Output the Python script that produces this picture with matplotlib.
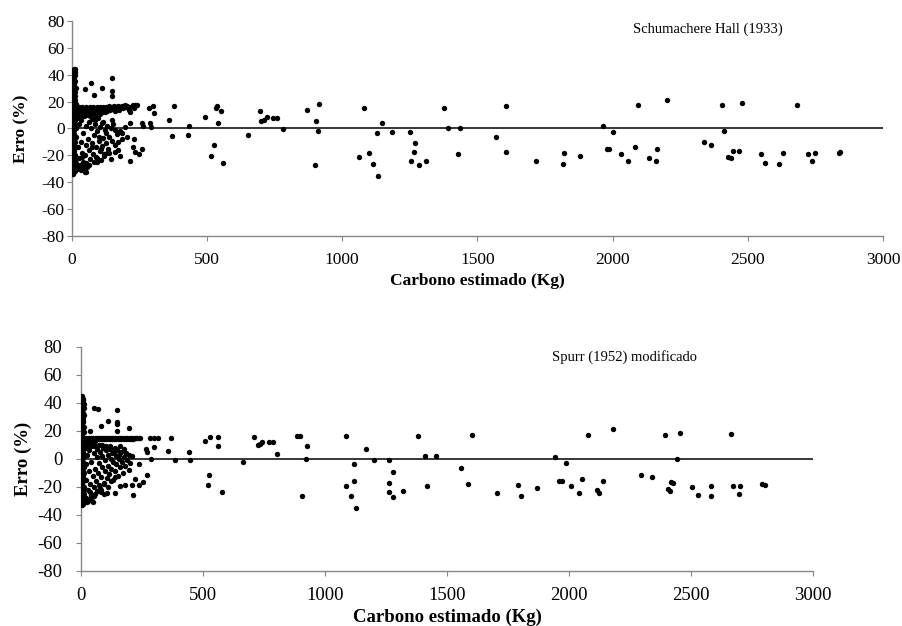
import numpy as np
import matplotlib
matplotlib.use('Agg')
import matplotlib.pyplot as plt

plt.rcParams['font.family'] = ['Liberation Serif', 'DejaVu Serif']
plt.rcParams['axes.unicode_minus'] = False

# ------- data (carbon estimate in kg, error in %) ------- #

# Schumacher e Hall (1933)
top_strip = [(8, 44), (6, 43), (4, 42), (9, 41), (3, 40), (5, 39), (7, 38), (2, 37), (6, 36), (4, 35),
             (8, 34), (3, 33), (5, 32), (7, 31), (2, 30), (6, 29), (4, 28), (8, 27), (3, 26), (5, 25),
             (7, 24), (2, 23), (6, 22), (4, 21), (8, 20), (3, 19), (5, 18), (7, 17), (2, 16), (6, 15),
             (4, 14), (8, 13), (3, 12), (5, 11), (7, 10), (2, 9), (6, 8), (4, 7), (8, 6), (3, 5),
             (5, 4), (7, 3), (2, 2), (6, 1), (4, 0), (8, -1), (3, -2), (5, -3), (7, -4), (2, -5),
             (6, -6), (4, -7), (8, -8), (3, -9), (5, -10), (7, -11), (2, -12), (6, -13), (4, -14), (8, -15),
             (3, -16), (5, -17), (7, -18), (2, -19), (6, -20), (4, -21), (8, -22), (3, -23), (5, -24), (7, -25),
             (2, -26), (6, -27), (4, -28), (8, -29), (3, -30), (5, -31), (7, -32), (4, -33), (6, -33.5),
             (12, 42), (14, 44), (11, 38), (10, 33), (12, 27), (13, 21), (11, 15), (10, 9), (12, 3),
             (11, -4), (13, -10), (10, -17), (12, -24), (11, -29), (13, 40), (12, -32),
             (14, 35), (15, 30), (14, 24), (15, 18), (14, 6), (15, 0), (14, -7), (15, -14), (14, -20),
             (15, -26), (14, -31)]

top_band = [(15, 13), (18, 15), (21, 11), (24, 14), (27, 16), (30, 12), (33, 15), (36, 13), (39, 16),
            (42, 11), (45, 14), (48, 15), (51, 13), (54, 16), (57, 12), (60, 14), (63, 15), (66, 13),
            (69, 16), (72, 14), (75, 12), (78, 15), (81, 16), (84, 13), (87, 15), (90, 14), (93, 16),
            (96, 12), (99, 15), (102, 13), (105, 16), (108, 14), (111, 15), (114, 12), (117, 16),
            (120, 14), (124, 15), (128, 16), (132, 13), (136, 15), (140, 17), (144, 14), (148, 16),
            (152, 15), (156, 17), (160, 13), (164, 16), (168, 15), (172, 17), (176, 14), (180, 16),
            (185, 17), (190, 15), (195, 17), (200, 16), (206, 17), (212, 14), (218, 16), (215, 12),
            (232, 15), (25, 10), (40, 9), (55, 10), (70, 11), (88, 10), (105, 11), (125, 12)]

top_cloud = [(18, -6), (21, 8), (24, -14), (26, -22), (29, 3), (31, -27), (34, -10), (36, 6), (39, -18),
             (41, -25), (44, -3), (47, 9), (49, -20), (52, -12), (55, 2), (57, -29), (60, -8), (63, 5),
             (66, -16), (68, -23), (71, 0), (74, -11), (77, 7), (80, -19), (83, -5), (86, 3), (89, -14),
             (92, -21), (95, -2), (98, 8), (101, -9), (104, -17), (107, 1), (111, -13), (114, 4),
             (117, -7), (120, -19), (124, -1), (128, -11), (132, 2), (136, -15), (140, -6), (145, 0),
             (150, -9), (155, 3), (161, -12), (167, -4), (173, -16), (180, -2), (188, -8), (196, 1),
             (205, -6), (20, -30), (25, -28), (30, 10), (35, -31), (40, 10), (46, 12), (53, -26),
             (58, 11), (64, -27), (70, 9), (76, -14), (85, 6), (93, -22), (102, -6), (110, -15),
             (118, 5), (127, -3), (137, -18), (148, 6), (160, -1), (172, -10), (186, -3)]

top_sparse = [(151, 37.3), (71, 34), (113, 30.4), (51, 29.4), (151, 27.9), (151, 24.2), (83, 24.7),
              (300, 17.1), (288, 15.5), (305, 11.3), (380, 17.1), (359, 6), (371, -5.6), (430, -5.1),
              (436, 2.2), (291, 4.2), (293, 1.2), (261, 4.2), (264, 1.7), (226, 17.5), (234, 17.5),
              (242, 17.3), (215, 4.4), (199, 17.5), (232, -7.6), (262, -15), (227, -13.9), (236, -17.3),
              (248, -19.3), (217, -24.4), (162, -17.5), (178, -20.5), (146, -22.8), (93, -24.7),
              (108, -23.7), (82, -24.9), (46, -28.4), (49, -32.1), (54, -32.6), (39, -21.5), (131, -18),
              (121, -20.5),
              (494, 8.9), (534, 15.3), (537, 16.8), (552, 13.2), (540, 4.2), (527, -12.4), (516, -20.3),
              (560, -26), (651, -5), (696, 13.2), (701, 5.4), (713, 6), (723, 8.3), (746, 7.8), (761, 7.8),
              (781, -0.3), (871, 13.6), (915, 17.9), (903, 5.4), (910, -2.2), (901, -27.5), (1064, -21.4),
              (1081, 15.1), (1099, -18.1), (1116, -26.3), (1134, -35), (1129, -3.5), (1146, 3.9),
              (1185, -2.5), (1251, -2.5), (1256, -24.3), (1265, -17.6), (1269, -10.7), (1285, -27.5),
              (1309, -24.3), (1378, 15.6), (1392, 0.2), (1429, -18.9), (1436, 0), (1568, -6.2),
              (1605, 16.4), (1607, -17.6), (1716, -24.3), (1816, -26.6), (1822, -18.1), (1879, -20.8),
              (1965, 1.9), (1981, -15.2), (1988, -15.2), (2002, -2.8), (2033, -18.9), (2058, -24.3),
              (2082, -13.9), (2094, 17.3), (2136, -22.1), (2161, -24.3), (2165, -15.4), (2200, 21.3),
              (2338, -10.2), (2363, -12.4), (2406, 17.3), (2411, -2.2), (2428, -21.4), (2438, -22.3),
              (2447, -16.4), (2468, -17.1), (2478, 18.8), (2549, -19.1), (2564, -25.6), (2617, -26.2),
              (2632, -18.2), (2683, 17.7), (2722, -18.8), (2737, -24.3), (2749, -18.2), (2837, -18.2),
              (2841, -17.3)]

# Spurr (1952) modificado
bot_strip = [(6, 45), (4, 44), (8, 43), (3, 42), (5, 41), (7, 40), (2, 39), (6, 38), (4, 37), (8, 36),
             (3, 35), (5, 34), (7, 33), (2, 32), (6, 31), (4, 30), (8, 29), (3, 28), (5, 27), (7, 26),
             (2, 25), (6, 24), (4, 23), (8, 22), (3, 21), (5, 20), (7, 19), (2, 18), (6, 17), (4, 16),
             (8, 15), (3, 14), (5, 13), (7, 12), (2, 11), (6, 10), (4, 9), (8, 8), (3, 7), (5, 6),
             (7, 5), (2, 4), (6, 3), (4, 2), (8, 1), (3, 0), (5, -1), (7, -2), (2, -3), (6, -4),
             (4, -5), (8, -6), (3, -7), (5, -8), (7, -9), (2, -10), (6, -11), (4, -12), (8, -13), (3, -14),
             (5, -15), (7, -16), (2, -17), (6, -18), (4, -19), (8, -20), (3, -21), (5, -22), (7, -23),
             (2, -24), (6, -25), (4, -26), (8, -27), (3, -28), (5, -29), (7, -30), (2, -31), (6, -32),
             (4, -33), (10, 42), (11, 36), (10, 28), (11, 19), (10, 7), (11, -6), (10, -15), (11, -25),
             (10, -32), (12, 39), (12, 31), (12, 23), (12, 2), (12, -10), (12, -20), (12, -29)]

bot_band = [(15, 12), (18, 14), (20, 10), (22, 15), (25, 13), (28, 11), (30, 14), (33, 15), (36, 12),
            (39, 14), (42, 15), (45, 13), (48, 14), (51, 15), (54, 14), (57, 13), (60, 15), (64, 14),
            (68, 15), (72, 14), (76, 15), (80, 14), (84, 15), (88, 14), (92, 15), (96, 14), (100, 15),
            (104, 14), (108, 15), (112, 14), (116, 15), (120, 14), (124, 15), (128, 14), (132, 15),
            (136, 14), (140, 15), (145, 14), (150, 15), (155, 14), (160, 15), (165, 14), (170, 15),
            (175, 14), (180, 15), (185, 14), (190, 15), (195, 14), (200, 15), (205, 14), (210, 15),
            (215, 14), (220, 15), (225, 14.5), (230, 15), (236, 14.5), (242, 15)]

bot_cloud = [(16, 8), (19, -4), (22, -15), (25, 3), (28, -22), (31, -9), (34, 6), (37, -18), (40, -2),
             (43, -26), (46, 9), (49, -12), (52, -20), (55, 4), (58, -7), (61, -16), (64, 1), (67, 7),
             (70, -10), (73, -3), (76, -21), (79, 5), (82, -13), (85, 2), (88, -6), (91, 8), (94, -17),
             (97, -1), (100, -9), (103, 6), (106, -14), (109, 3), (112, -5), (115, -11), (118, 7),
             (121, 0), (124, -7), (127, 4), (130, -15), (133, -2), (136, 5), (139, -9), (142, 2),
             (145, -4), (148, 6), (151, -12), (154, 0), (157, 3), (160, -6), (164, 5), (168, -2),
             (172, -10), (176, 1), (180, -5), (185, 4), (190, -1), (196, -8), (202, -3),
             (20, -28), (26, -31), (30, 10), (36, -24), (44, -30), (50, 11), (58, -25), (66, -23),
             (74, -19), (84, -22), (96, -18), (110, -20), (124, -16), (138, -13), (56, 9), (72, 10),
             (88, 10), (104, 9), (120, 9), (140, 8), (160, 9), (178, 7)]

bot_sparse = [(53, 36.2), (70, 35.2), (109, 27.1), (146, 34.5), (146, 25.9), (148, 24.8), (146, 20),
              (195, 21.9), (83, 23.6), (38, 20), (268, 6.9), (272, 4.5), (300, 8.6), (287, -0.2),
              (355, 5.5), (370, 15), (386, -0.7), (444, 5), (445, -0.9), (283, 15), (300, 15), (314, 15),
              (236, -3.8), (269, -11.6), (254, -16.4), (236, -18.6), (209, -18.6), (223, -14.5),
              (212, -25.9), (182, -18.8), (159, -19.3), (141, -24.5), (107, -24.8), (93, -25.2),
              (83, -24.1), (52, -26.9), (48, -31.2), (38, -28.8), (195, 2.9), (209, 1.6),
              (507, 12.4), (529, 15.5), (561, 15.5), (561, 9), (526, -11.9), (520, -19), (577, -23.6),
              (663, -2.6), (708, 15.7), (727, 10), (735, 10.5), (743, 11.9), (772, 12.1), (788, 12.1),
              (803, 3.3), (884, 16.2), (897, 16.2), (927, 8.8), (922, -0.5), (904, -26.9), (1087, 16.4),
              (1120, -3.8), (1170, 6.8), (1201, -0.7), (1087, -19.3), (1120, -15.9), (1106, -26.7),
              (1127, -35.2), (1261, -0.9), (1261, -17.6), (1261, -23.6), (1280, -9.3), (1279, -27.6),
              (1320, -23.3), (1382, 16.4), (1410, 2.1), (1455, 1.7), (1417, -19.3), (1556, -6.7),
              (1586, -18.3), (1601, 16.7), (1706, -24.5), (1792, -19), (1803, -26.9), (1869, -20.9),
              (1944, 1.4), (1988, -3.1), (1958, -15.7), (1970, -15.7), (2008, -19.3), (2041, -24.8),
              (2054, -14.5), (2079, 17.1), (2113, -22.4), (2124, -24.8), (2138, -15.9), (2181, 20.9),
              (2296, -11.4), (2340, -12.9), (2394, 17.1), (2406, -21.9), (2414, -22.9), (2419, -16.9),
              (2427, -17.6), (2441, -0.5), (2453, 18.4), (2504, -20), (2529, -26.2), (2582, -19.5),
              (2582, -26.7), (2665, 17.4), (2673, -19.8), (2701, -19.5), (2698, -25), (2791, -18.3),
              (2802, -18.8)]

x_ticks = [0, 500, 1000, 1500, 2000, 2500, 3000]
y_ticks = [-80, -60, -40, -20, 0, 20, 40, 60, 80]

grey = '#868686'


def panel(ax, groups, label, label_xy, fs_tick, fs_lab, ypad, ylab_x):
    pts = np.array([p for g in groups for p in g], dtype=float)
    ax.scatter(pts[:, 0], pts[:, 1], s=15, c='black', linewidths=0, zorder=3)
    ax.axhline(0, color='black', lw=1.1, zorder=2)

    ax.set_xlim(0, 3000)
    ax.set_ylim(-80, 80)
    ax.set_xticks(x_ticks)
    ax.set_yticks(y_ticks)
    for s in ['top', 'right']:
        ax.spines[s].set_visible(False)
    for s in ['left', 'bottom']:
        ax.spines[s].set_color(grey)
        ax.spines[s].set_linewidth(1.0)
    ax.tick_params(axis='both', direction='out', length=3.5, color=grey, labelsize=fs_tick)
    ax.tick_params(axis='x', pad=8)
    ax.tick_params(axis='y', pad=ypad)

    ax.set_xlabel('Carbono estimado (Kg)', fontsize=fs_lab, fontweight='bold', va='top')
    ax.set_ylabel('Erro (%)', fontsize=fs_lab, fontweight='bold')
    ax.xaxis.set_label_coords(0.5, -0.17)
    ax.yaxis.set_label_coords(ylab_x, 0.5)
    ax.text(label_xy[0], label_xy[1], label, fontsize=10.5, va='center', ha='left')


fig = plt.figure(figsize=(9.03, 6.26), dpi=100)
ax1 = fig.add_axes([0.0792, 0.623, 0.8987, 0.3435])
ax2 = fig.add_axes([0.0897, 0.0883, 0.8106, 0.3578])

panel(ax1, [top_strip, top_band, top_cloud, top_sparse], 'Schumachere Hall (1933)',
      (2076, 74), 12.5, 12.5, 1.5, -0.052)
panel(ax2, [bot_strip, bot_band, bot_cloud, bot_sparse], 'Spurr (1952) modificado',
      (1929, 73), 13.5, 13.5, 10, -0.067)

plt.savefig('out.png', dpi=100)
